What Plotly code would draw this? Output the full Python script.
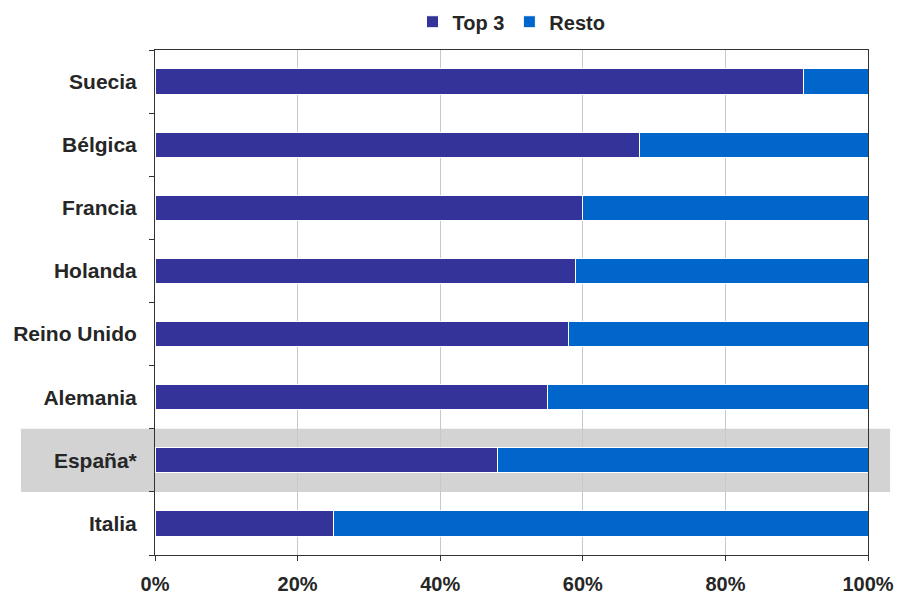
import plotly.graph_objects as go

countries = ["Italia", "España*", "Alemania", "Reino Unido", "Holanda", "Francia", "Bélgica", "Suecia"]
top3 = [25, 48, 55, 58, 59, 60, 68, 91]
resto = [100 - v for v in top3]
x_ticks = [0, 20, 40, 60, 80, 100]
x_labels = ["0%", "20%", "40%", "60%", "80%", "100%"]
highlight = "España*"

fig = go.Figure()
fig.add_trace(go.Bar(y=countries, x=top3, name="Top 3", orientation="h",
                     marker=dict(color="#333399", line=dict(color="white", width=1))))
fig.add_trace(go.Bar(y=countries, x=resto, name="Resto", orientation="h",
                     marker=dict(color="#0066CC", line=dict(color="white", width=1))))

hi = countries.index(highlight)
fig.add_shape(type="rect", xref="paper", yref="y", x0=-0.188, x1=1.031,
              y0=hi - 0.5, y1=hi + 0.5, fillcolor="#D3D3D3", line=dict(width=0), layer="below")

fig.update_layout(
    template="none",
    barmode="stack",
    bargap=0.6,
    width=899, height=597,
    margin=dict(l=155, r=31, t=50, b=42, autoexpand=False),
    paper_bgcolor="white",
    plot_bgcolor="rgba(0,0,0,0)",
    font=dict(family="Liberation Sans, Arial, sans-serif", color="#262626"),
    legend=dict(orientation="h", x=0.5, xanchor="center", y=1.056, yanchor="middle",
                traceorder="normal", bgcolor="rgba(0,0,0,0)",
                font=dict(size=20, color="#262626", weight="bold"),
                itemwidth=30, tracegroupgap=0),
    xaxis=dict(range=[0, 100], tickvals=x_ticks, ticktext=x_labels, automargin=False,
               showgrid=True, gridcolor="#C8C8C8", gridwidth=1,
               showline=True, linecolor="#333333", linewidth=1, mirror=True,
               ticks="outside", ticklen=5, tickcolor="#333333",
               ticklabelstandoff=6,
               tickfont=dict(size=20, color="#262626", weight="bold"), zeroline=False),
    yaxis=dict(range=[-0.5, len(countries) - 0.5], showgrid=False, automargin=False,
               showline=True, linecolor="#333333", linewidth=1, mirror=True,
               ticks="outside", ticklen=5, tickcolor="#333333", tickson="boundaries",
               ticklabelstandoff=13, zeroline=False,
               tickfont=dict(size=21, color="#262626", weight="bold")),
)

fig.write_html("out.html")
